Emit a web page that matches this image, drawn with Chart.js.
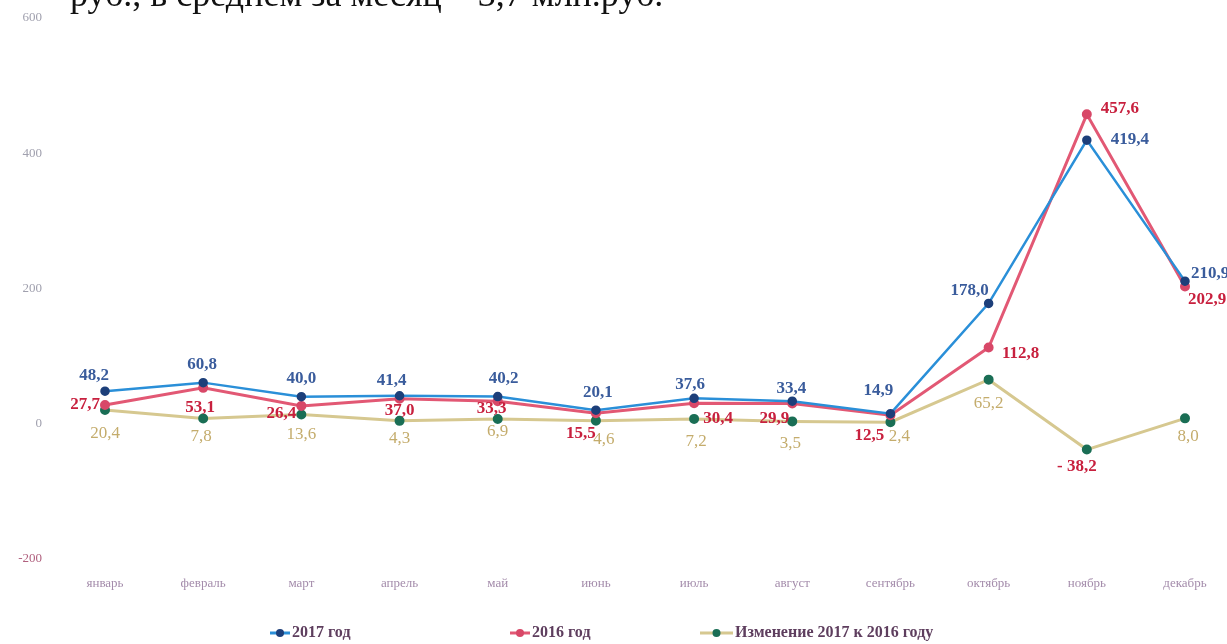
<!DOCTYPE html>
<html>
<head>
<meta charset="utf-8">
<script src="https://cdn.jsdelivr.net/npm/chart.js@4.4.1/dist/chart.umd.min.js"></script>
<style>
  body { margin: 0; background: #fff; }
  #wrap { position: relative; width: 1227px; height: 644px; overflow: hidden; }
  #caption { position: absolute; left: 70px; top: -24px; font: 36px/1 "Liberation Serif", serif; color: #111; white-space: nowrap; z-index: 2; }
  canvas { position: absolute; left: 0; top: 0; }
</style>
</head>
<body>
<div id="wrap">
  <div id="caption">руб., в среднем за месяц – 3,7 млн.руб.</div>
  <canvas id="chart" width="1227" height="644"></canvas>
</div>
<script>
// months
var months = ['январь', 'февраль', 'март', 'апрель', 'май', 'июнь', 'июль', 'август', 'сентябрь', 'октябрь', 'ноябрь', 'декабрь'];
var seriesNames = ['2017 год', '2016 год', 'Изменение 2017 к 2016 году'];
var values2017 = [48.2, 60.8, 40.0, 41.4, 40.2, 20.1, 37.6, 33.4, 14.9, 178.0, 419.4, 210.9];
var values2016 = [27.7, 53.1, 26.4, 37.0, 33.3, 15.5, 30.4, 29.9, 12.5, 112.8, 457.6, 202.9];
var valuesChange = [20.4, 7.8, 13.6, 4.3, 6.9, 4.6, 7.2, 3.5, 2.4, 65.2, -38.2, 8.0];
var yTicks = [-200, 0, 200, 400, 600];

// where each value label sits relative to its point (dx, dy)
var offs2017 = [[-11,-16],[-1,-18],[0,-18],[-8,-15],[6,-18],[2,-18],[-4,-14],[-1,-13],[-12,-23],[-19,-13],[43,-1],[25,-8]];
var offs2016 = [[-20,0],[-3,20],[-20,8],[0,12],[-6,7],[-15,20],[24,15],[-18,15],[-21,20],[32,6],[33,-6],[22,13]];
var offsChange = [[0,24],[-2,18],[0,20],[0,18],[0,12],[8,19],[2,23],[-2,22],[9,14],[0,24],[-10,17],[3,18]];

function fmt(v) {
  if (v < 0) return '- ' + Math.abs(v).toFixed(1).replace('.', ',');
  return v.toFixed(1).replace('.', ',');
}

var valueLabels = {
  id: 'valueLabels',
  afterDatasetsDraw: function(chart) {
    var ctx = chart.ctx;
    chart.data.datasets.forEach(function(ds, di) {
      var meta = chart.getDatasetMeta(di);
      ctx.save();
      ctx.textAlign = 'center';
      ctx.textBaseline = 'middle';
      meta.data.forEach(function(pt, i) {
        var v = ds.data[i];
        var o = ds.labelOffsets[i];
        if (v < 0) {
          ctx.font = 'bold 17px "Liberation Serif", serif';
          ctx.fillStyle = '#c8203e';
        } else {
          ctx.font = ds.labelFont;
          ctx.fillStyle = ds.labelColor;
        }
        ctx.fillText(fmt(v), pt.x + o[0], pt.y + o[1]);
      });
      ctx.restore();
    });
  }
};

// bottom legend, spread like the original
var legendX = [270, 510, 700];
var lineLen = [20, 20, 33];
var bottomLegend = {
  id: 'bottomLegend',
  afterDraw: function(chart) {
    var ctx = chart.ctx;
    var y = 633;
    ctx.save();
    chart.data.datasets.forEach(function(ds, i) {
      var x = legendX[i];
      ctx.strokeStyle = ds.borderColor;
      ctx.lineWidth = 3;
      ctx.beginPath();
      ctx.moveTo(x, y);
      ctx.lineTo(x + lineLen[i], y);
      ctx.stroke();
      ctx.fillStyle = ds.pointBackgroundColor;
      ctx.beginPath();
      ctx.arc(x + lineLen[i] / 2, y, 4, 0, Math.PI * 2);
      ctx.fill();
      ctx.fillStyle = '#5e3e5e';
      ctx.font = 'bold 16px "Liberation Serif", serif';
      ctx.textBaseline = 'middle';
      ctx.textAlign = 'left';
      ctx.fillText(ds.label, x + lineLen[i] + 2, y);
    });
    ctx.restore();
  }
};

var chart = new Chart(document.getElementById('chart'), {
  type: 'line',
  data: {
    labels: months,
    datasets: [
      {
        label: seriesNames[0],
        data: values2017,
        borderColor: '#2a8fd8',
        backgroundColor: '#1d3f7a',
        pointBackgroundColor: '#1d3f7a',
        pointBorderColor: '#1d3f7a',
        borderWidth: 2.5,
        pointRadius: 3.5,
        tension: 0,
        labelColor: '#3a5c9c',
        labelFont: 'bold 17px "Liberation Serif", serif',
        labelOffsets: offs2017
      },
      {
        label: seriesNames[1],
        data: values2016,
        borderColor: '#e25874',
        backgroundColor: '#d84868',
        pointBackgroundColor: '#d84868',
        pointBorderColor: '#d84868',
        borderWidth: 3,
        pointRadius: 3.5,
        tension: 0,
        labelColor: '#c8203e',
        labelFont: 'bold 17px "Liberation Serif", serif',
        labelOffsets: offs2016
      },
      {
        label: seriesNames[2],
        data: valuesChange,
        borderColor: '#d6c890',
        backgroundColor: '#1a6e55',
        pointBackgroundColor: '#1a6e55',
        pointBorderColor: '#1a6e55',
        borderWidth: 3,
        pointRadius: 3.5,
        tension: 0,
        labelColor: '#c4ac6c',
        labelFont: '17px "Liberation Serif", serif',
        labelOffsets: offsChange
      }
    ]
  },
  options: {
    responsive: false,
    animation: false,
    layout: { padding: { top: 18, right: 42, bottom: 54, left: 0 } },
    plugins: {
      legend: { display: false },
      tooltip: { enabled: false }
    },
    scales: {
      x: {
        grid: { display: false, drawTicks: false },
        border: { display: false },
        afterFit: function(scale) { scale.height = 31; },
        ticks: {
          padding: 17,
          maxRotation: 0,
          autoSkip: false,
          color: '#a48cab',
          font: { family: '"Liberation Serif", serif', size: 13 }
        }
      },
      y: {
        min: yTicks[0],
        max: yTicks[yTicks.length - 1],
        afterBuildTicks: function(scale) {
          scale.ticks = yTicks.map(function(v) { return { value: v }; });
        },
        afterFit: function(scale) {
          scale.width = 105;
          scale.paddingTop = 8;
          scale.paddingBottom = 8;
        },
        grid: { display: false, drawTicks: false },
        border: { display: false },
        ticks: {
          padding: 63,
          color: function(c) { return c.tick.value < 0 ? '#b0607e' : '#a0a0ae'; },
          font: { family: '"Liberation Serif", serif', size: 13 }
        }
      }
    }
  },
  plugins: [valueLabels, bottomLegend]
});
</script>
</body>
</html>
